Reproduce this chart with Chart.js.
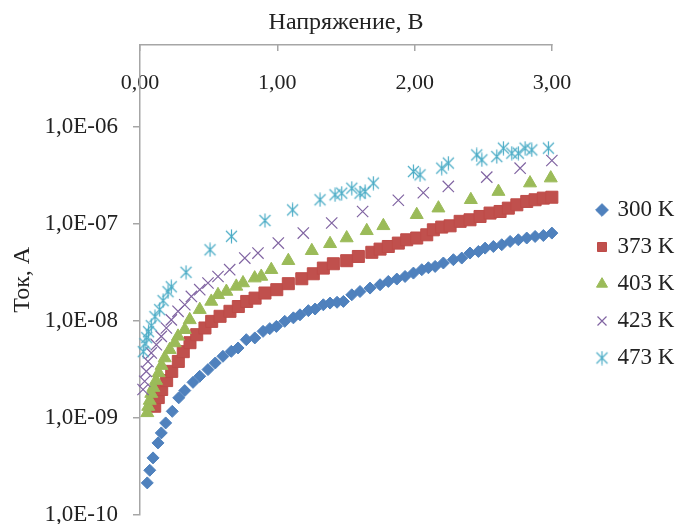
<!DOCTYPE html>
<html>
<head>
<meta charset="utf-8">
<title>ВАХ</title>
<script src="https://cdn.jsdelivr.net/npm/chart.js@4.4.1/dist/chart.umd.min.js"></script>
<style>
  html, body { margin: 0; padding: 0; background: #fff; }
  #wrap { width: 678px; height: 524px; }
</style>
</head>
<body>
<div id="wrap"><canvas id="ivChart" width="678" height="524"></canvas></div>
<script>
// axis ticks
const xTicks = [0, 1, 2, 3];
const xTickLabels = ['0,00', '1,00', '2,00', '3,00'];
const yTicks = [1e-10, 1e-9, 1e-8, 1e-7, 1e-6];
const yTickLabels = ['1,0E-10', '1,0E-09', '1,0E-08', '1,0E-07', '1,0E-06'];

const seriesNames = ['300 K', '373 K', '403 K', '423 K', '473 K'];

// 300 K
const volt300 = [0.053, 0.071, 0.095, 0.131, 0.155, 0.187, 0.235, 0.282, 0.326, 0.386,
  0.435, 0.495, 0.548, 0.604, 0.665, 0.714, 0.774, 0.836, 0.896, 0.945,
  0.993, 1.054, 1.117, 1.165, 1.226, 1.275, 1.335, 1.384, 1.435, 1.481,
  1.542, 1.602, 1.675, 1.748, 1.808, 1.870, 1.930, 1.991, 2.052, 2.100,
  2.149, 2.209, 2.282, 2.343, 2.403, 2.464, 2.513, 2.573, 2.634, 2.695,
  2.755, 2.816, 2.877, 2.937, 2.999];
const curr300 = [2.12e-10, 2.86e-10, 3.84e-10, 5.48e-10, 6.95e-10, 8.81e-10, 1.16e-9, 1.60e-9, 1.90e-9, 2.31e-9,
  2.67e-9, 3.13e-9, 3.66e-9, 4.29e-9, 4.83e-9, 5.23e-9, 6.37e-9, 6.64e-9, 7.76e-9, 8.28e-9,
  8.73e-9, 9.84e-9, 1.07e-8, 1.15e-8, 1.27e-8, 1.32e-8, 1.46e-8, 1.52e-8, 1.55e-8, 1.58e-8,
  1.85e-8, 2.00e-8, 2.17e-8, 2.35e-8, 2.54e-8, 2.69e-8, 2.86e-8, 3.10e-8, 3.36e-8, 3.52e-8,
  3.63e-8, 3.94e-8, 4.26e-8, 4.43e-8, 4.99e-8, 5.18e-8, 5.61e-8, 5.83e-8, 6.08e-8, 6.57e-8,
  6.84e-8, 7.13e-8, 7.40e-8, 7.57e-8, 8.02e-8];

// 373 K
const volt373 = [0.107, 0.133, 0.158, 0.194, 0.231, 0.279, 0.315, 0.364, 0.413, 0.473,
  0.522, 0.583, 0.655, 0.716, 0.777, 0.838, 0.910, 0.996, 1.080, 1.178,
  1.262, 1.335, 1.408, 1.505, 1.590, 1.688, 1.748, 1.808, 1.881, 1.942,
  2.015, 2.088, 2.136, 2.197, 2.258, 2.331, 2.403, 2.476, 2.549, 2.622,
  2.682, 2.744, 2.816, 2.877, 2.937, 2.999];
const curr373 = [1.31e-9, 1.61e-9, 1.95e-9, 2.41e-9, 3.00e-9, 3.80e-9, 4.79e-9, 5.93e-9, 7.17e-9, 8.41e-9,
  9.84e-9, 1.11e-8, 1.25e-8, 1.40e-8, 1.58e-8, 1.71e-8, 1.93e-8, 2.09e-8, 2.41e-8, 2.71e-8,
  3.05e-8, 3.49e-8, 3.87e-8, 4.16e-8, 4.60e-8, 5.08e-8, 5.48e-8, 5.83e-8, 6.32e-8, 6.84e-8,
  7.13e-8, 7.70e-8, 8.67e-8, 9.25e-8, 9.53e-8, 1.06e-7, 1.10e-7, 1.19e-7, 1.29e-7, 1.34e-7,
  1.45e-7, 1.57e-7, 1.70e-7, 1.77e-7, 1.84e-7, 1.88e-7];

// 403 K
const volt403 = [0.053, 0.060, 0.071, 0.082, 0.097, 0.117, 0.136, 0.157, 0.180, 0.216,
  0.253, 0.277, 0.326, 0.362, 0.435, 0.519, 0.568, 0.629, 0.701, 0.750,
  0.835, 0.883, 0.956, 1.080, 1.251, 1.384, 1.505, 1.651, 1.772, 2.015,
  2.173, 2.409, 2.610, 2.840, 2.991];
const curr403 = [1.12e-9, 1.30e-9, 1.50e-9, 1.77e-9, 2.04e-9, 2.41e-9, 2.89e-9, 3.44e-9, 4.12e-9, 5.02e-9,
  5.89e-9, 6.89e-9, 8.07e-9, 1.02e-8, 1.30e-8, 1.58e-8, 1.85e-8, 2.00e-8, 2.26e-8, 2.45e-8,
  2.75e-8, 2.86e-8, 3.36e-8, 4.16e-8, 5.27e-8, 6.22e-8, 7.13e-8, 8.47e-8, 9.53e-8, 1.24e-7,
  1.45e-7, 1.77e-7, 2.15e-7, 2.63e-7, 2.96e-7];

// 423 K
const volt423 = [0.022, 0.034, 0.046, 0.058, 0.082, 0.119, 0.155, 0.192, 0.228, 0.277,
  0.326, 0.374, 0.435, 0.495, 0.568, 0.653, 0.763, 0.859, 1.007, 1.189,
  1.396, 1.621, 1.881, 2.063, 2.245, 2.525, 2.768, 2.999];
const curr423 = [1.95e-9, 2.37e-9, 3.00e-9, 3.80e-9, 4.65e-9, 5.66e-9, 6.89e-9, 8.41e-9, 1.02e-8, 1.25e-8,
  1.46e-8, 1.78e-8, 2.09e-8, 2.45e-8, 2.86e-8, 3.36e-8, 4.43e-8, 4.99e-8, 6.32e-8, 8.02e-8,
  1.02e-7, 1.34e-7, 1.75e-7, 2.09e-7, 2.43e-7, 3.03e-7, 3.75e-7, 4.50e-7];

// 473 K
const volt473 = [0.024, 0.036, 0.049, 0.062, 0.082, 0.109, 0.143, 0.168, 0.204, 0.228,
  0.335, 0.510, 0.666, 0.910, 1.111, 1.311, 1.420, 1.469, 1.542, 1.602,
  1.639, 1.699, 1.991, 2.039, 2.197, 2.245, 2.452, 2.489, 2.598, 2.646,
  2.707, 2.755, 2.804, 2.853, 2.974];
const curr473 = [4.79e-9, 5.79e-9, 6.68e-9, 7.70e-9, 8.87e-9, 1.10e-8, 1.30e-8, 1.61e-8, 1.99e-8, 2.24e-8,
  3.16e-8, 5.39e-8, 7.43e-8, 1.08e-7, 1.39e-7, 1.77e-7, 1.99e-7, 2.07e-7, 2.33e-7, 2.07e-7,
  2.15e-7, 2.63e-7, 3.46e-7, 3.20e-7, 3.75e-7, 4.23e-7, 5.14e-7, 4.57e-7, 4.94e-7, 6.03e-7,
  5.36e-7, 5.36e-7, 6.03e-7, 5.79e-7, 6.03e-7];

const textColor = '#222222';
const axisColor = '#a6a6a6';

function toPoints(xs, ys) {
  return xs.map((x, i) => ({ x: x, y: ys[i] }));
}

// excel-like asterisk marker (X with a vertical bar)
function makeStar(color) {
  const c = document.createElement('canvas');
  c.width = 15;
  c.height = 15;
  const g = c.getContext('2d');
  g.strokeStyle = color;
  g.lineWidth = 1.2;
  g.beginPath();
  g.moveTo(7.5, 0.5); g.lineTo(7.5, 14.5);
  g.moveTo(2, 2); g.lineTo(13, 13);
  g.moveTo(13, 2); g.lineTo(2, 13);
  g.stroke();
  return c;
}

// fixed legend box, shifted to where the reference has it
const legendPlacer = {
  id: 'legendPlacer',
  afterInit(chart) {
    const legend = chart.legend;
    const fit = legend.fit.bind(legend);
    legend.fit = function () {
      fit();
      this.width = 126;
    };
  },
  afterLayout(chart) {
    const legend = chart.legend;
    legend.left = 584;
    legend.right = 678;
    legend.top += 26.5;
    legend.bottom += 26.5;
  }
};

Chart.defaults.font.family = '"Liberation Serif", "Times New Roman", serif';
Chart.defaults.color = textColor;

const ctx = document.getElementById('ivChart').getContext('2d');

new Chart(ctx, {
  type: 'scatter',
  data: {
    datasets: [
      {
        label: seriesNames[0],
        data: toPoints(volt300, curr300),
        pointStyle: 'rectRot',
        pointRadius: 6,
        backgroundColor: '#4F81BD',
        borderColor: '#4F81BD',
        borderWidth: 1,
        order: 4,
        clip: false
      },
      {
        label: seriesNames[1],
        data: toPoints(volt373, curr373),
        pointStyle: 'rect',
        pointRadius: 8.5,
        backgroundColor: '#C0504D',
        borderColor: '#BE4B48',
        borderWidth: 1,
        order: 3,
        clip: false
      },
      {
        label: seriesNames[2],
        data: toPoints(volt403, curr403),
        pointStyle: 'triangle',
        pointRadius: 7.5,
        backgroundColor: '#9BBB59',
        borderColor: '#9BBB59',
        borderWidth: 1,
        order: 2,
        clip: false
      },
      {
        label: seriesNames[3],
        data: toPoints(volt423, curr423),
        pointStyle: 'crossRot',
        pointRadius: 8,
        backgroundColor: '#8064A2',
        borderColor: '#8064A2',
        borderWidth: 1.2,
        order: 1,
        clip: false
      },
      {
        label: seriesNames[4],
        data: toPoints(volt473, curr473),
        pointStyle: makeStar('#4BACC6'),
        pointRadius: 7,
        backgroundColor: '#4BACC6',
        borderColor: '#4BACC6',
        borderWidth: 1,
        order: 0,
        clip: false
      }
    ]
  },
  options: {
    responsive: false,
    animation: false,
    events: [],
    layout: { padding: { top: 0, left: 0, right: 0, bottom: 9 } },
    plugins: {
      tooltip: { enabled: false },
      legend: {
        position: 'right',
        reverse: true,
        labels: {
          usePointStyle: true,
          boxWidth: 8,
          boxHeight: 9,
          padding: 14,
          color: textColor,
          font: { size: 23 }
        }
      }
    },
    scales: {
      x: {
        type: 'linear',
        position: 'top',
        min: 0,
        max: 3,
        afterBuildTicks: s => { s.ticks = xTicks.map(v => ({ value: v })); },
        afterFit: s => { s.height = 45; s.paddingLeft = 0; s.paddingRight = 0; },
        ticks: {
          callback: (v, i) => xTickLabels[i],
          mirror: true,
          padding: 25,
          maxRotation: 0,
          autoSkip: false,
          color: textColor,
          font: { size: 22 }
        },
        grid: {
          display: true,
          drawOnChartArea: false,
          drawTicks: true,
          tickLength: -6,
          color: axisColor,
          lineWidth: 1.5
        },
        border: { display: true, color: axisColor, width: 1.5 },
        title: {
          display: true,
          text: 'Напряжение, В',
          color: textColor,
          font: { size: 24 },
          padding: { top: 8, bottom: 0 }
        }
      },
      y: {
        type: 'logarithmic',
        position: 'left',
        min: 1e-10,
        max: 7e-6,
        afterBuildTicks: s => { s.ticks = yTicks.map(v => ({ value: v })); },
        afterFit: s => { s.width = 140; s.paddingTop = 0; s.paddingBottom = 0; },
        ticks: {
          callback: (v, i) => yTickLabels[i],
          padding: 15,
          autoSkip: false,
          color: textColor,
          font: { size: 23 }
        },
        grid: {
          display: true,
          drawOnChartArea: false,
          drawTicks: true,
          tickLength: 7,
          color: axisColor,
          lineWidth: 1.5
        },
        border: { display: true, color: axisColor, width: 1.5 },
        title: {
          display: true,
          text: 'Ток, А',
          color: textColor,
          font: { size: 24 },
          padding: { top: 8, bottom: 0 }
        }
      }
    }
  },
  plugins: [legendPlacer]
});
</script>
</body>
</html>
